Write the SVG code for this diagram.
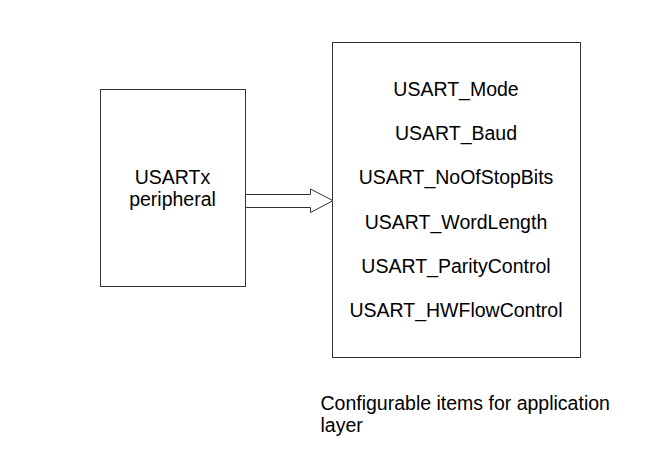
<svg xmlns="http://www.w3.org/2000/svg" width="666" height="468" viewBox="0 0 666 468">
<style>
.box{fill:#fff;stroke:#333;stroke-width:1}
.t{font-family:"Liberation Sans",Arial,sans-serif;font-size:19.5px;fill:#000}
.c{text-anchor:middle}
</style>
<rect width="666" height="468" fill="#fff"/>
<g id="usartx">
<rect class="box" x="100.5" y="89.5" width="145" height="197"/>
<text class="t c" x="172.5" y="184">USARTx</text>
<text class="t c" x="172.5" y="206">peripheral</text>
</g>
<g id="config">
<rect class="box" x="332.5" y="42.5" width="248" height="315"/>
<text class="t c" x="456" y="96">USART_Mode</text>
<text class="t c" x="456" y="140.2">USART_Baud</text>
<text class="t c" x="456" y="184.4">USART_NoOfStopBits</text>
<text class="t c" x="456" y="228.6">USART_WordLength</text>
<text class="t c" x="456" y="272.8">USART_ParityControl</text>
<text class="t c" x="456" y="317">USART_HWFlowControl</text>
</g>
<g id="connectors">
<path d="M245.5,194.5 H310.5 V189 L333,200.7 L310.5,212.5 V207.5 H245.5 Z" fill="#fff" stroke="#333" stroke-width="1" stroke-linejoin="miter"/>
</g>
<g id="caption">
<text class="t" x="320.5" y="409.5">Configurable items for application</text>
<text class="t" x="320.5" y="431.5">layer</text>
</g>
</svg>
